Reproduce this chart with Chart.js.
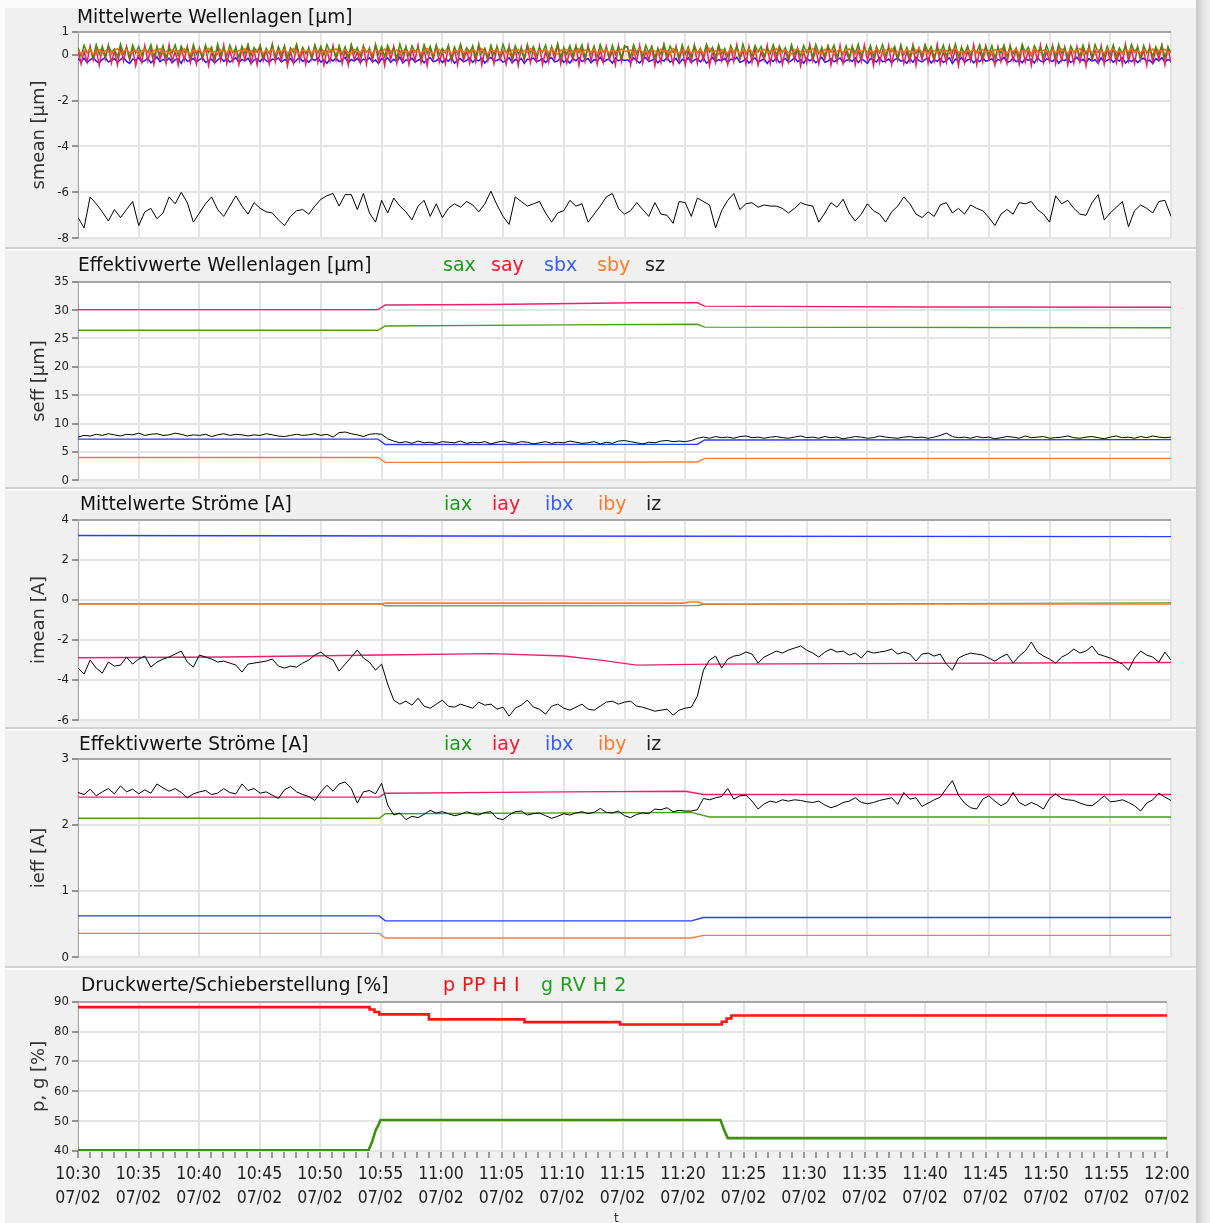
<!DOCTYPE html>
<html><head><meta charset="utf-8">
<script src="https://cdn.jsdelivr.net/npm/chart.js@4.4.1/dist/chart.umd.min.js"></script>
<style>
html,body{margin:0;padding:0;background:#fbfbfb;width:1210px;height:1223px;overflow:hidden;font-family:'DejaVu Sans',sans-serif;}
.panel{position:absolute;left:5px;width:1191px;background:#f0f0f0;border-bottom:2px solid #d2d2d2;box-sizing:border-box;}
.rbar{position:absolute;left:1196px;top:0;width:14px;height:1223px;background:linear-gradient(to right,#c9c9c9,#e6e6e6 60%,#efefef);}
canvas{position:absolute;left:0;}
.title{position:absolute;font-size:18.6px;color:#111;white-space:nowrap;}
.leg{position:absolute;font-size:19px;white-space:nowrap;}
</style></head><body>
<div class="panel" style="top:8px;height:241px"></div>
<div class="panel" style="top:251px;height:238px"></div>
<div class="panel" style="top:491px;height:238px"></div>
<div class="panel" style="top:731px;height:237px"></div>
<div class="panel" style="top:970px;height:253px;border-bottom:none"></div>
<div class="rbar"></div>
<canvas id="c1"></canvas><canvas id="c2"></canvas><canvas id="c3"></canvas><canvas id="c4"></canvas><canvas id="c5"></canvas>

<div class="title" style="left:77px;top:6px">Mittelwerte Wellenlagen [µm]</div>

<div class="title" style="left:78px;top:254px">Effektivwerte Wellenlagen [µm]</div>
<div class="leg" style="left:443px;top:253px;color:#1a9a1a">sax</div>
<div class="leg" style="left:491px;top:253px;color:#ff1432">say</div>
<div class="leg" style="left:544px;top:253px;color:#3a5cff">sbx</div>
<div class="leg" style="left:597px;top:253px;color:#ff7a2a">sby</div>
<div class="leg" style="left:645px;top:253px;color:#222">sz</div>

<div class="title" style="left:80px;top:493px">Mittelwerte Ströme [A]</div>
<div class="leg" style="left:444px;top:492px;color:#1a9a1a">iax</div>
<div class="leg" style="left:492px;top:492px;color:#ff1432">iay</div>
<div class="leg" style="left:545px;top:492px;color:#3a5cff">ibx</div>
<div class="leg" style="left:598px;top:492px;color:#ff7a2a">iby</div>
<div class="leg" style="left:646px;top:492px;color:#222">iz</div>

<div class="title" style="left:79px;top:733px">Effektivwerte Ströme [A]</div>
<div class="leg" style="left:444px;top:732px;color:#1a9a1a">iax</div>
<div class="leg" style="left:492px;top:732px;color:#ff1432">iay</div>
<div class="leg" style="left:545px;top:732px;color:#3a5cff">ibx</div>
<div class="leg" style="left:598px;top:732px;color:#ff7a2a">iby</div>
<div class="leg" style="left:646px;top:732px;color:#222">iz</div>

<div class="title" style="left:81px;top:974px">Druckwerte/Schieberstellung [%]</div>
<div class="leg" style="left:443px;top:973px;color:#ff1010;letter-spacing:0.5px">p PP H I</div>
<div class="leg" style="left:541px;top:973px;color:#1f9f1f;letter-spacing:0.5px">g RV H 2</div>
<div style="position:absolute;left:614px;top:1211px;font-size:12px;color:#333">t</div>

<script>
// ---------- axis / tick data ----------
const X_MAX = 90;            // minutes after 10:30
const T_STEP = 0.5;          // sampling interval of the noisy records (min)
const T_STEP_FAST = 0.25;    // sampling interval of the fast position records (min)
const xTickLabels = ['10:30','10:35','10:40','10:45','10:50','10:55','11:00','11:05','11:10','11:15','11:20','11:25','11:30','11:35','11:40','11:45','11:50','11:55','12:00'];
const xTickDate = '07/02';
const yTicks1 = [1, 0, -2, -4, -6, -8];
const yTicks2 = [35, 30, 25, 20, 15, 10, 5, 0];
const yTicks3 = [4, 2, 0, -2, -4, -6];
const yTicks4 = [3, 2, 1, 0];
const yTicks5 = [90, 80, 70, 60, 50, 40];

// ---------- panel 1: Mittelwerte Wellenlagen ----------
const sax1 = [0.32,-0.05,0.41,0.08,0.28,-0.12,0.44,0.02,0.35,-0.08,
0.39,0.12,0.25,-0.10,0.46,0.04,0.30,-0.14,0.42,0.06,
0.36,-0.02,0.29,0.10,0.45,-0.09,0.33,0.01,0.40,-0.13,
0.27,0.07,0.43,-0.04,0.37,0.11,0.31,-0.11,0.44,0.03,
0.26,-0.07,0.40,0.09,0.34,-0.15,0.47,0.00,0.30,-0.06,
0.42,0.08,0.28,-0.12,0.38,0.05,0.45,-0.03,0.32,0.10,
0.41,-0.10,0.27,0.06,0.43,-0.08,0.35,0.02,0.39,-0.14,
0.30,0.09,0.46,-0.05,0.33,0.04,0.28,-0.11,0.42,0.07,
0.37,-0.02,0.44,0.11,0.29,-0.09,0.40,0.01,0.34,-0.13,
0.45,0.06,0.31,-0.06,0.38,0.10,0.26,-0.10,0.43,0.03,
0.35,-0.08,0.41,0.08,0.30,-0.15,0.47,0.02,0.33,-0.04,
0.39,0.12,0.28,-0.11,0.44,0.05,0.36,-0.07,0.42,0.00,
0.27,0.09,0.40,-0.12,0.34,0.04,0.46,-0.03,0.31,0.11,
0.38,-0.09,0.43,0.06,0.29,-0.13,0.41,0.01,0.35,-0.06,
0.45,0.08,0.32,-0.10,0.39,0.03,0.27,-0.14,0.44,0.07,
0.36,-0.02,0.30,0.10,0.42,-0.08,0.34,0.05,0.47,-0.11,
0.29,0.02,0.40,-0.05,0.37,0.09,0.43,-0.12,0.31,0.04,
0.38,-0.07,0.45,0.11,0.28,-0.09,0.41,0.00,0.35,-0.13,
0.40,
0.33,-0.10,0.44,0.05,0.29,-0.07,0.41,0.09,0.36,-0.12,
0.27,0.03,0.45,-0.05,0.38,0.10,0.31,-0.14,0.43,0.01,
0.35,-0.09,0.40,0.07,0.28,-0.03,0.46,0.11,0.32,-0.11,
0.42,0.04,0.26,-0.08,0.39,0.08,0.34,-0.13,0.47,0.02,
0.30,-0.06,0.41,0.12,0.36,-0.10,0.28,0.05,0.44,-0.02,
0.37,0.09,0.31,-0.15,0.43,0.03,0.27,-0.07,0.40,0.10,
0.34,-0.11,0.45,0.06,0.29,-0.04,0.38,0.11,0.42,-0.09,
0.26,0.02,0.39,-0.13,0.35,0.07,0.46,-0.06,0.30,0.04,
0.41,-0.10,0.33,0.09,0.44,-0.02,0.28,0.12,0.37,-0.14,
0.43,0.01,0.32,-0.08,0.40,0.06,0.27,-0.05,0.45,0.10,
0.36,-0.12,0.29,0.03,0.42,-0.07,0.34,0.08,0.47,-0.10,
0.31,0.05,0.38,-0.03,0.26,0.11,0.44,-0.09,0.35,0.00,
0.40,-0.14,0.30,0.07,0.43,-0.06,0.37,0.04,0.28,-0.11,
0.45,0.09,0.33,-0.04,0.39,0.12,0.27,-0.08,0.42,0.02,
0.36,-0.10,0.46,0.06,0.31,-0.13,0.38,0.08,0.29,-0.05,
0.41,0.03,0.34,-0.12,0.44,0.10,0.28,-0.07,0.37,0.01,
0.43,-0.09,0.30,0.05,0.39,-0.02,0.45,0.11,0.32,-0.15,
0.40,0.07,0.27,-0.06,0.35,0.04,0.42,-0.11,0.33,0.09];
const say1 = [0.28,-0.40,0.15,-0.32,0.38,-0.25,0.22,-0.46,0.33,-0.20,
0.41,-0.36,0.18,-0.44,0.30,-0.28,0.36,-0.23,0.24,-0.48,
0.12,-0.34,0.40,-0.27,0.26,-0.42,0.35,-0.19,0.20,-0.38,
0.43,-0.30,0.16,-0.45,0.31,-0.24,0.37,-0.35,0.23,-0.41,
0.29,-0.21,0.39,-0.47,0.14,-0.33,0.34,-0.26,0.42,-0.39,
0.19,-0.29,0.32,-0.43,0.25,-0.22,0.38,-0.36,0.17,-0.45,
0.36,-0.27,0.21,-0.40,0.44,-0.31,0.27,-0.24,0.33,-0.49,
0.15,-0.37,0.40,-0.28,0.22,-0.42,0.30,-0.20,0.37,-0.34,
0.26,-0.46,0.18,-0.30,0.41,-0.25,0.32,-0.39,0.24,-0.44,
0.39,-0.23,0.13,-0.35,0.35,-0.41,0.28,-0.27,0.43,-0.32,
0.20,-0.47,0.31,-0.22,0.37,-0.38,0.16,-0.29,0.34,-0.43,
0.27,-0.26,0.42,-0.36,0.23,-0.48,0.30,-0.21,0.38,-0.33,
0.14,-0.40,0.36,-0.28,0.25,-0.44,0.40,-0.24,0.19,-0.37,
0.33,-0.31,0.44,-0.45,0.21,-0.26,0.29,-0.39,0.35,-0.22,
0.17,-0.42,0.39,-0.30,0.26,-0.47,0.32,-0.25,0.41,-0.35,
0.22,-0.28,0.37,-0.43,0.15,-0.33,0.34,-0.20,0.45,-0.40,
0.28,-0.36,0.19,-0.24,0.38,-0.46,0.25,-0.31,0.42,-0.27,
0.31,-0.41,0.23,-0.34,0.36,-0.22,0.18,-0.45,0.40,-0.30,
0.33,
0.35,-0.44,0.21,-0.29,0.40,-0.37,0.17,-0.23,0.32,-0.47,
0.26,-0.33,0.43,-0.21,0.14,-0.40,0.37,-0.27,0.29,-0.45,
0.19,-0.31,0.41,-0.38,0.24,-0.22,0.34,-0.48,0.16,-0.35,
0.39,-0.26,0.22,-0.43,0.31,-0.30,0.45,-0.20,0.18,-0.41,
0.36,-0.34,0.27,-0.46,0.13,-0.25,0.42,-0.39,0.23,-0.28,
0.33,-0.43,0.20,-0.32,0.38,-0.24,0.28,-0.49,0.15,-0.36,
0.44,-0.27,0.25,-0.40,0.30,-0.21,0.37,-0.45,0.19,-0.33,
0.41,-0.38,0.16,-0.26,0.35,-0.44,0.24,-0.30,0.43,-0.23,
0.21,-0.47,0.32,-0.35,0.18,-0.28,0.40,-0.42,0.27,-0.25,
0.36,-0.39,0.14,-0.31,0.42,-0.46,0.29,-0.22,0.34,-0.37,
0.23,-0.29,0.45,-0.41,0.17,-0.34,0.38,-0.24,0.26,-0.48,
0.31,-0.36,0.20,-0.27,0.44,-0.43,0.22,-0.32,0.39,-0.20,
0.15,-0.45,0.35,-0.30,0.28,-0.38,0.41,-0.26,0.24,-0.42,
0.37,-0.33,0.19,-0.47,0.30,-0.23,0.43,-0.35,0.16,-0.29,
0.40,-0.40,0.25,-0.25,0.33,-0.44,0.21,-0.37,0.36,-0.31,
0.27,-0.48,0.42,-0.22,0.18,-0.34,0.39,-0.41,0.29,-0.27,
0.32,-0.36,0.14,-0.43,0.45,-0.28,0.23,-0.39,0.35,-0.24,
0.20,-0.46,0.38,-0.32,0.26,-0.21,0.41,-0.44,0.30,-0.35];
const sby1 = [0.20,0.04,0.16,0.09,0.25,0.01,0.14,0.22,0.07,0.18,
0.11,0.03,0.21,0.26,0.06,0.15,0.23,0.08,0.13,0.19,
0.02,0.17,0.24,0.10,0.05,0.20,0.14,0.27,0.09,0.16,
0.04,0.22,0.12,0.18,0.07,0.25,0.11,0.03,0.19,0.15,
0.23,0.06,0.17,0.28,0.10,0.13,0.02,0.21,0.16,0.08,
0.24,0.12,0.05,0.19,0.14,0.26,0.09,0.18,0.03,0.22,
0.15,0.07,0.20,0.11,0.25,0.04,0.17,0.13,0.23,0.08,
0.16,0.27,0.10,0.02,0.21,0.14,0.19,0.06,0.24,0.12,
0.09,0.18,0.03,0.22,0.15,0.26,0.07,0.13,0.20,0.11,
0.05,0.23,0.16,0.08,0.28,0.12,0.18,0.04,0.21,0.14,
0.10,0.25,0.06,0.17,0.13,0.22,0.02,0.19,0.15,0.09,
0.24,0.11,0.20,0.07,0.16,0.27,0.12,0.05,0.18,0.23,
0.08,0.14,0.21,0.03,0.19,0.13,0.25,0.10,0.17,0.06,
0.22,0.15,0.09,0.26,0.11,0.04,0.20,0.16,0.23,0.07,
0.18,0.12,0.02,0.21,0.14,0.24,0.08,0.17,0.10,0.27,
0.13,0.05,0.19,0.15,0.22,0.09,0.25,0.11,0.03,0.20,
0.16,0.23,0.07,0.18,0.12,0.26,0.06,0.21,0.14,0.10,
0.24,0.04,0.17,0.13,0.22,0.08,0.19,0.15,0.11,0.25,
0.18,
0.12,0.21,0.05,0.17,0.26,0.09,0.14,0.03,0.22,0.16,
0.07,0.24,0.11,0.19,0.02,0.27,0.13,0.08,0.20,0.15,
0.25,0.06,0.18,0.10,0.23,0.04,0.16,0.28,0.11,0.19,
0.03,0.22,0.14,0.07,0.25,0.12,0.17,0.05,0.21,0.09,
0.26,0.13,0.02,0.20,0.15,0.24,0.08,0.18,0.11,0.27,
0.06,0.16,0.22,0.10,0.04,0.19,0.25,0.13,0.07,0.21,
0.14,0.28,0.09,0.17,0.03,0.23,0.12,0.20,0.06,0.15,
0.24,0.08,0.18,0.26,0.11,0.02,0.19,0.14,0.22,0.05,
0.17,0.10,0.25,0.13,0.07,0.21,0.16,0.27,0.04,0.12,
0.20,0.09,0.23,0.15,0.06,0.18,0.26,0.11,0.14,0.03,
0.22,0.17,0.08,0.24,0.12,0.19,0.05,0.21,0.28,0.10,
0.15,0.02,0.20,0.13,0.25,0.07,0.16,0.23,0.09,0.18,
0.04,0.22,0.14,0.27,0.11,0.06,0.19,0.15,0.24,0.08,
0.17,0.12,0.21,0.03,0.26,0.13,0.10,0.20,0.16,0.05,
0.23,0.09,0.18,0.25,0.14,0.07,0.22,0.11,0.19,0.28,
0.06,0.15,0.24,0.12,0.02,0.20,0.17,0.08,0.23,0.13,
0.26,0.10,0.16,0.04,0.21,0.14,0.27,0.09,0.18,0.07,
0.22,0.15,0.11,0.25,0.05,0.19,0.13,0.24,0.08,0.17];
const sbx1 = [-0.18,-0.30,-0.15,-0.34,-0.22,-0.12,-0.28,-0.36,-0.20,-0.14,
-0.31,-0.25,-0.17,-0.33,-0.21,-0.11,-0.29,-0.38,-0.19,-0.24,
-0.13,-0.32,-0.26,-0.16,-0.35,-0.23,-0.10,-0.30,-0.20,-0.27,
-0.15,-0.34,-0.22,-0.18,-0.37,-0.12,-0.28,-0.25,-0.16,-0.31,
-0.21,-0.14,-0.33,-0.26,-0.19,-0.36,-0.23,-0.11,-0.29,-0.17,
-0.32,-0.24,-0.13,-0.35,-0.20,-0.27,-0.15,-0.38,-0.22,-0.18,
-0.30,-0.12,-0.26,-0.34,-0.19,-0.23,-0.14,-0.31,-0.21,-0.28,
-0.16,-0.36,-0.24,-0.11,-0.29,-0.20,-0.33,-0.17,-0.25,-0.13,
-0.32,-0.22,-0.37,-0.18,-0.27,-0.15,-0.30,-0.24,-0.12,-0.35,
-0.21,-0.28,-0.16,-0.34,-0.19,-0.26,-0.13,-0.31,-0.23,-0.38,
-0.17,-0.25,-0.14,-0.33,-0.20,-0.29,-0.11,-0.36,-0.22,-0.27,
-0.15,-0.32,-0.24,-0.18,-0.35,-0.21,-0.13,-0.30,-0.26,-0.16,
-0.34,-0.19,-0.28,-0.12,-0.37,-0.23,-0.17,-0.31,-0.25,-0.14,
-0.33,-0.20,-0.27,-0.15,-0.36,-0.22,-0.11,-0.29,-0.24,-0.18,
-0.32,-0.26,-0.13,-0.35,-0.21,-0.28,-0.16,-0.38,-0.19,-0.23,
-0.14,-0.30,-0.25,-0.17,-0.34,-0.20,-0.12,-0.31,-0.27,-0.15,
-0.33,-0.22,-0.36,-0.18,-0.26,-0.13,-0.29,-0.24,-0.16,-0.35,
-0.21,-0.28,-0.11,-0.32,-0.23,-0.19,-0.37,-0.14,-0.27,-0.20,
-0.25,
-0.22,-0.33,-0.14,-0.27,-0.36,-0.19,-0.12,-0.30,-0.24,-0.17,
-0.35,-0.21,-0.28,-0.11,-0.32,-0.25,-0.16,-0.38,-0.20,-0.29,
-0.13,-0.34,-0.23,-0.18,-0.31,-0.15,-0.37,-0.26,-0.12,-0.30,
-0.21,-0.27,-0.16,-0.35,-0.19,-0.24,-0.11,-0.33,-0.28,-0.17,
-0.36,-0.22,-0.14,-0.31,-0.25,-0.18,-0.38,-0.20,-0.29,-0.13,
-0.34,-0.23,-0.16,-0.32,-0.26,-0.12,-0.30,-0.21,-0.37,-0.15,
-0.27,-0.19,-0.35,-0.24,-0.11,-0.33,-0.28,-0.17,-0.31,-0.22,
-0.14,-0.36,-0.25,-0.20,-0.29,-0.13,-0.34,-0.18,-0.26,-0.38,
-0.16,-0.23,-0.32,-0.12,-0.30,-0.27,-0.19,-0.35,-0.21,-0.15,
-0.28,-0.24,-0.37,-0.17,-0.33,-0.11,-0.26,-0.31,-0.20,-0.14,
-0.36,-0.22,-0.29,-0.16,-0.34,-0.25,-0.13,-0.38,-0.19,-0.27,
-0.12,-0.32,-0.23,-0.18,-0.35,-0.21,-0.30,-0.15,-0.28,-0.24,
-0.17,-0.37,-0.20,-0.26,-0.11,-0.33,-0.29,-0.14,-0.31,-0.22,
-0.35,-0.16,-0.25,-0.19,-0.36,-0.12,-0.27,-0.32,-0.18,-0.23,
-0.30,-0.13,-0.38,-0.21,-0.26,-0.15,-0.34,-0.24,-0.11,-0.29,
-0.20,-0.35,-0.17,-0.28,-0.22,-0.37,-0.14,-0.31,-0.25,-0.16,
-0.33,-0.19,-0.27,-0.12,-0.36,-0.23,-0.30,-0.18,-0.34,-0.21,
-0.15,-0.29,-0.24,-0.38,-0.17,-0.26,-0.13,-0.32,-0.20,-0.28];
const sz1 = [-7.1,-7.55,-6.2,-6.5,-6.85,-7.25,-6.75,-7.1,-6.75,-6.4,
-7.45,-6.85,-6.7,-7.15,-6.9,-6.2,-6.5,-6.0,-6.45,-7.3,
-6.9,-6.5,-6.2,-6.75,-7.05,-6.6,-6.15,-6.6,-6.95,-6.45,
-6.7,-6.85,-6.9,-7.2,-7.45,-7.05,-6.8,-6.75,-6.95,-6.6,
-6.3,-6.15,-6.05,-6.6,-6.1,-6.1,-6.75,-6.05,-6.9,-7.3,
-6.35,-6.9,-6.25,-6.6,-6.85,-7.2,-6.6,-6.35,-7.05,-6.5,
-7.1,-6.7,-6.5,-6.65,-6.4,-6.55,-6.85,-6.5,-5.95,-6.55,
-7.05,-7.4,-6.2,-6.4,-6.6,-6.5,-6.4,-6.9,-7.3,-6.9,
-6.8,-6.35,-6.6,-6.5,-7.3,-6.95,-6.6,-6.2,-6.05,-6.7,
-6.95,-6.8,-6.45,-6.75,-7.05,-6.45,-6.95,-7.0,-7.35,-6.4,
-6.45,-7.05,-6.25,-6.4,-6.55,-7.55,-6.8,-6.35,-6.05,-6.75,
-6.5,-6.45,-6.65,-6.55,-6.6,-6.6,-6.7,-6.9,-6.7,-6.45,
-6.55,-6.6,-7.3,-6.9,-6.45,-6.65,-6.3,-6.9,-7.25,-6.95,
-6.5,-6.8,-6.95,-7.3,-6.85,-6.6,-6.2,-6.5,-6.95,-7.1,
-6.85,-7.05,-6.55,-6.45,-6.9,-6.7,-6.95,-6.55,-6.7,-6.8,
-7.1,-7.45,-6.95,-6.75,-6.95,-6.45,-6.5,-6.4,-6.75,-6.95,
-7.3,-6.15,-6.5,-6.35,-6.7,-6.95,-7.0,-6.45,-6.1,-7.2,
-6.9,-6.65,-6.4,-7.5,-6.8,-6.55,-6.7,-6.9,-6.4,-6.35,
-7.05];

// ---------- panel 2: Effektivwerte Wellenlagen ----------
const sz2 = [7.6,7.9,7.8,8.1,7.9,8.2,8.0,7.8,8.1,8.0,8.3,7.9,8.1,8.2,7.9,8.0,8.3,8.1,7.8,8.0,
7.9,8.1,7.7,8.0,8.2,7.9,8.1,8.0,7.8,8.0,7.9,8.2,8.0,7.8,7.7,7.9,8.1,7.9,8.0,8.2,
7.9,8.1,7.6,8.4,8.5,8.2,8.0,7.7,8.1,8.2,8.1,
7.3,6.9,6.6,6.8,6.5,6.9,6.6,6.7,6.5,6.8,6.7,6.6,6.9,6.5,6.7,6.6,6.8,6.4,6.7,6.9,
6.6,6.5,6.8,6.7,6.4,6.6,6.8,6.5,6.7,6.6,6.9,6.7,6.5,6.6,6.8,6.4,6.7,6.5,6.9,7.0,
6.8,6.6,6.4,6.7,6.6,6.9,7.0,6.8,6.9,6.8,7.0,
7.4,7.6,7.4,7.7,7.5,7.6,7.4,7.7,7.8,7.5,7.6,7.4,7.6,7.7,7.5,7.4,7.6,7.8,7.5,
7.6,7.4,7.7,7.5,7.6,7.3,7.5,7.7,7.6,7.4,7.5,7.8,7.6,7.5,7.4,7.6,7.7,7.5,7.6,7.4,
7.6,7.9,8.3,7.7,7.5,7.6,7.4,7.7,7.5,7.6,7.3,7.5,7.7,7.6,7.4,7.8,7.5,7.6,7.7,7.4,
7.5,7.6,7.8,7.5,7.4,7.6,7.7,7.5,7.3,7.6,7.8,7.5,7.6,7.4,7.7,7.5,7.8,7.6,7.5,7.6];
const say2T = [0, 24.7, 25.3, 34, 46, 51.0, 51.6, 70, 90];
const say2V = [30.1, 30.1, 30.9, 31.0, 31.3, 31.3, 30.7, 30.55, 30.5];
const sax2T = [0, 24.7, 25.3, 40, 51.0, 51.6, 90];
const sax2V = [26.45, 26.45, 27.2, 27.4, 27.5, 27.0, 26.9];
const sbx2T = [0, 24.7, 25.3, 51.0, 51.6, 90];
const sbx2V = [7.25, 7.25, 6.3, 6.35, 7.1, 7.15];
const sby2T = [0, 24.7, 25.3, 51.0, 51.6, 90];
const sby2V = [4.0, 4.0, 3.15, 3.2, 3.85, 3.85];

// ---------- panel 3: Mittelwerte Ströme ----------
const iz3 = [-3.4,-3.7,-3.0,-3.4,-3.65,-3.1,-3.3,-3.25,-2.85,-3.2,
-2.95,-2.8,-3.35,-3.1,-2.95,-2.85,-2.7,-2.55,-3.1,-3.35,
-2.75,-2.85,-2.95,-3.1,-3.05,-3.15,-3.25,-3.6,-3.2,-3.15,
-3.1,-3.05,-2.95,-3.3,-3.4,-3.3,-3.35,-3.15,-3.0,-2.75,
-2.6,-2.85,-3.0,-3.55,-3.2,-2.85,-2.5,-2.9,-3.1,-3.5,
-3.2,-4.2,-5.0,-5.2,-5.05,-5.25,-4.9,-5.3,-5.4,-5.2,
-5.0,-5.3,-5.35,-5.2,-5.3,-5.4,-5.1,-5.25,-5.2,-5.45,
-5.35,-5.8,-5.4,-5.25,-5.0,-5.35,-5.45,-5.7,-5.3,-5.2,
-5.4,-5.5,-5.35,-5.2,-5.45,-5.5,-5.3,-5.1,-5.05,-5.2,
-5.1,-5.05,-5.3,-5.35,-5.45,-5.55,-5.5,-5.45,-5.75,-5.5,
-5.4,-5.35,-4.8,-3.5,-3.0,-2.8,-3.4,-2.95,-2.8,-2.75,
-2.6,-2.7,-3.15,-2.85,-2.7,-2.55,-2.65,-2.5,-2.4,-2.3,
-2.5,-2.65,-2.85,-2.6,-2.45,-2.6,-2.55,-2.75,-2.65,-2.9,
-2.55,-2.65,-2.6,-2.55,-2.45,-2.7,-2.6,-2.7,-3.05,-2.7,
-2.65,-2.8,-2.7,-3.2,-3.5,-2.9,-2.75,-2.65,-2.7,-2.75,
-2.9,-3.05,-2.85,-2.7,-3.15,-2.8,-2.55,-2.1,-2.6,-2.8,
-2.95,-3.15,-2.85,-2.7,-2.45,-2.65,-2.55,-2.3,-2.7,-2.8,
-2.9,-3.05,-3.2,-3.5,-2.9,-2.55,-2.75,-2.85,-3.1,-2.6,
-3.0];
const iay3T = [0, 12, 25, 34, 40, 43, 46, 52, 90];
const iay3V = [-2.88, -2.85, -2.75, -2.68, -2.8, -3.0, -3.25, -3.2, -3.12];
const ibx3T = [0, 30, 90];
const ibx3V = [3.22, 3.19, 3.16];
const iby3T = [0, 25, 25.3, 49.9, 50.3, 51.1, 51.5, 90];
const iby3V = [-0.2, -0.2, -0.16, -0.16, -0.1, -0.1, -0.2, -0.2];
const iax3T = [0, 25, 25.3, 51, 51.5, 90];
const iax3V = [-0.2, -0.2, -0.3, -0.28, -0.22, -0.15];

// ---------- panel 4: Effektivwerte Ströme ----------
const iz4 = [2.49,2.46,2.54,2.44,2.5,2.55,2.47,2.59,2.5,2.54,
2.47,2.53,2.48,2.62,2.56,2.51,2.55,2.49,2.41,2.47,
2.5,2.52,2.46,2.48,2.55,2.49,2.47,2.62,2.52,2.55,
2.48,2.5,2.45,2.4,2.53,2.58,2.5,2.46,2.43,2.37,
2.5,2.6,2.51,2.62,2.65,2.55,2.33,2.5,2.52,2.47,
2.63,2.3,2.15,2.18,2.08,2.13,2.11,2.16,2.22,2.18,
2.2,2.17,2.14,2.16,2.2,2.17,2.15,2.19,2.2,2.1,
2.08,2.15,2.2,2.21,2.15,2.17,2.18,2.14,2.1,2.13,
2.17,2.15,2.18,2.2,2.17,2.19,2.25,2.19,2.18,2.21,
2.14,2.11,2.16,2.18,2.17,2.24,2.23,2.26,2.2,2.22,
2.21,2.21,2.23,2.4,2.38,2.41,2.43,2.55,2.39,2.44,
2.45,2.36,2.24,2.32,2.36,2.34,2.38,2.36,2.38,2.37,
2.35,2.34,2.36,2.3,2.26,2.29,2.34,2.36,2.41,2.34,
2.32,2.34,2.37,2.39,2.41,2.31,2.49,2.39,2.41,2.28,
2.33,2.38,2.42,2.55,2.67,2.45,2.33,2.26,2.24,2.39,
2.44,2.36,2.29,2.34,2.49,2.34,2.29,2.34,2.3,2.24,
2.4,2.47,2.4,2.38,2.37,2.33,2.3,2.29,2.36,2.44,
2.35,2.36,2.38,2.34,2.29,2.21,2.33,2.38,2.48,2.42,
2.37];
const iay4T = [0, 24.8, 25.3, 40, 50, 51.5, 90];
const iay4V = [2.42, 2.42, 2.48, 2.5, 2.51, 2.46, 2.46];
const iax4T = [0, 24.8, 25.3, 50.5, 52, 90];
const iax4V = [2.1, 2.1, 2.17, 2.19, 2.12, 2.12];
const ibx4T = [0, 24.8, 25.3, 50.5, 51.5, 90];
const ibx4V = [0.625, 0.625, 0.55, 0.55, 0.6, 0.6];
const iby4T = [0, 24.8, 25.3, 50.5, 51.5, 90];
const iby4V = [0.36, 0.36, 0.29, 0.29, 0.33, 0.33];

// ---------- panel 5: Druckwerte / Schieberstellung ----------
const pT = [0, 24.1, 24.5, 24.9, 29.0, 36.9, 44.8, 53.2, 53.6, 54.0, 90];
const pV = [88.2, 87.4, 86.6, 85.8, 84.1, 83.2, 82.4, 83.3, 84.4, 85.4, 85.4];
const gT = [0, 24.0, 24.3, 24.6, 24.8, 25.0, 53.1, 53.4, 53.7, 90];
const gV = [40.2, 40.2, 43, 47, 48.5, 50.4, 50.4, 47, 44.3, 44.3];

// ---------- helpers ----------
const F = "'DejaVu Sans Condensed','DejaVu Sans',sans-serif";
const FT = "'DejaVu Sans',sans-serif";
const GRID = '#e4e4e4';
const tNoise = sz1.map((_, i) => i * T_STEP);
const tFast = sax1.map((_, i) => i * T_STEP_FAST);
const pts = (t, v) => v.map((y, i) => ({x: t[i], y}));
const ds = (t, v, color, w, extra) => Object.assign({data: pts(t, v), borderColor: color, borderWidth: w, pointRadius: 0, fill: false}, extra || {});
const majorTicks = xTickLabels.map((_, i) => i * 5);
const minuteTicks = []; for (let m = 0; m <= X_MAX; m++) minuteTicks.push(m);

const plotBg = {id: 'plotBg', beforeDraw(c) {
  const {ctx, chartArea: a} = c;
  ctx.save(); ctx.fillStyle = '#ffffff';
  ctx.fillRect(a.left, a.top, a.right - a.left, a.bottom - a.top);
  ctx.restore();
}};

function makeChart(p) {
  const cv = document.getElementById(p.id);
  const padT = 10, xH = p.bottom ? 72 : 0, padB = p.bottom ? 0 : 10;
  const H = padT + (p.plotBottom - p.plotTop) + xH + padB;
  cv.width = 1195; cv.height = H;
  cv.style.width = '1195px'; cv.style.height = H + 'px';
  cv.style.top = (p.plotTop - padT) + 'px';
  const xScale = p.bottom ? {
    type: 'linear', min: 0, max: X_MAX,
    afterBuildTicks: s => { s.ticks = minuteTicks.map(v => ({value: v})); },
    ticks: {autoSkip: false, maxRotation: 0, minRotation: 0, padding: 4, color: '#222',
      font: {family: F, size: 17.5, lineHeight: 1.4},
      callback: v => (v % 5 === 0 ? [xTickLabels[v / 5], xTickDate] : '')},
    grid: {color: c => (c.tick && c.tick.value % 5 === 0 ? GRID : 'rgba(0,0,0,0)'), lineWidth: 2,
      drawTicks: true, tickLength: 7, tickColor: '#444', tickWidth: 1},
    border: {display: false},
    afterFit: s => { s.height = xH; }
  } : {
    type: 'linear', min: 0, max: X_MAX,
    afterBuildTicks: s => { s.ticks = majorTicks.map(v => ({value: v})); },
    ticks: {display: false},
    grid: {color: GRID, lineWidth: 2, drawTicks: false},
    border: {display: false},
    afterFit: s => { s.height = 0; }
  };
  return new Chart(cv, {
    type: 'line',
    data: {datasets: p.datasets},
    options: {
      responsive: false, animation: false, events: [],
      layout: {padding: {top: padT, bottom: padB, left: 27, right: 1195 - p.plotRight}},
      plugins: {legend: {display: false}, tooltip: {enabled: false}},
      elements: {point: {radius: 0}, line: {tension: 0}},
      scales: {
        x: xScale,
        y: {
          type: 'linear', min: p.yMin, max: p.yMax,
          afterBuildTicks: s => { s.ticks = p.yTicks.map(v => ({value: v})); },
          ticks: {autoSkip: false, color: '#222', font: {family: F, size: 13}, padding: 3},
          grid: {color: c => (c.tick && c.tick.value === p.yMax ? '#a6a6a6' : GRID), lineWidth: 2,
            tickLength: 6, tickColor: '#333', tickWidth: 1},
          border: {display: true, color: '#a6a6a6', width: 1},
          title: {display: true, text: p.yTitle, color: '#333', font: {family: FT, size: 18}, padding: {top: 2, bottom: 0}},
          afterFit: s => { s.width = 51; }
        }
      }
    },
    plugins: [plotBg]
  });
}

makeChart({id: 'c1', plotTop: 31, plotBottom: 239, plotRight: 1171, yMin: -8, yMax: 1, yTicks: yTicks1, yTitle: 'smean [µm]',
  datasets: [
    ds(tFast, sby1, '#ff6a1a', 1.5),
    ds(tFast, sax1, '#458c08', 1.5),
    ds(tFast, say1, '#ec1e5e', 1.5),
    ds(tFast, sbx1, '#1a1aff', 1.5),
    ds(tNoise, sz1, '#000000', 1)
  ]});

makeChart({id: 'c2', plotTop: 281, plotBottom: 481, plotRight: 1171, yMin: 0, yMax: 35, yTicks: yTicks2, yTitle: 'seff [µm]',
  datasets: [
    ds(tNoise, sz2, '#000000', 1),
    ds(say2T, say2V, '#e8236c', 1.4),
    ds(sax2T, sax2V, '#4f9a20', 1.4),
    ds(sbx2T, sbx2V, '#2b3cf5', 1.4),
    ds(sby2T, sby2V, '#ff7a3c', 1.4)
  ]});

makeChart({id: 'c3', plotTop: 519, plotBottom: 721, plotRight: 1171, yMin: -6, yMax: 4, yTicks: yTicks3, yTitle: 'imean [A]',
  datasets: [
    ds(tNoise, iz3, '#000000', 1),
    ds(iay3T, iay3V, '#e8236c', 1.4),
    ds(iby3T, iby3V, '#ff7a3c', 1.6),
    ds(iax3T, iax3V, '#4f9a20', 1.2),
    ds(ibx3T, ibx3V, '#2b3cf5', 1.4)
  ]});

makeChart({id: 'c4', plotTop: 758, plotBottom: 958, plotRight: 1171, yMin: 0, yMax: 3, yTicks: yTicks4, yTitle: 'ieff [A]',
  datasets: [
    ds(tNoise, iz4, '#000000', 1),
    ds(iay4T, iay4V, '#e8236c', 1.4),
    ds(iax4T, iax4V, '#4f9a20', 1.4),
    ds(ibx4T, ibx4V, '#2b3cf5', 1.4),
    ds(iby4T, iby4V, '#ff7a3c', 1.4)
  ]});

makeChart({id: 'c5', plotTop: 1001, plotBottom: 1151, plotRight: 1167, yMin: 40, yMax: 90, yTicks: yTicks5, yTitle: 'p, g [%]', bottom: true,
  datasets: [
    ds(pT, pV, '#ff1414', 2.6, {stepped: 'before'}),
    ds(gT, gV, '#3f8f10', 2.6)
  ]});
</script>
</body></html>
